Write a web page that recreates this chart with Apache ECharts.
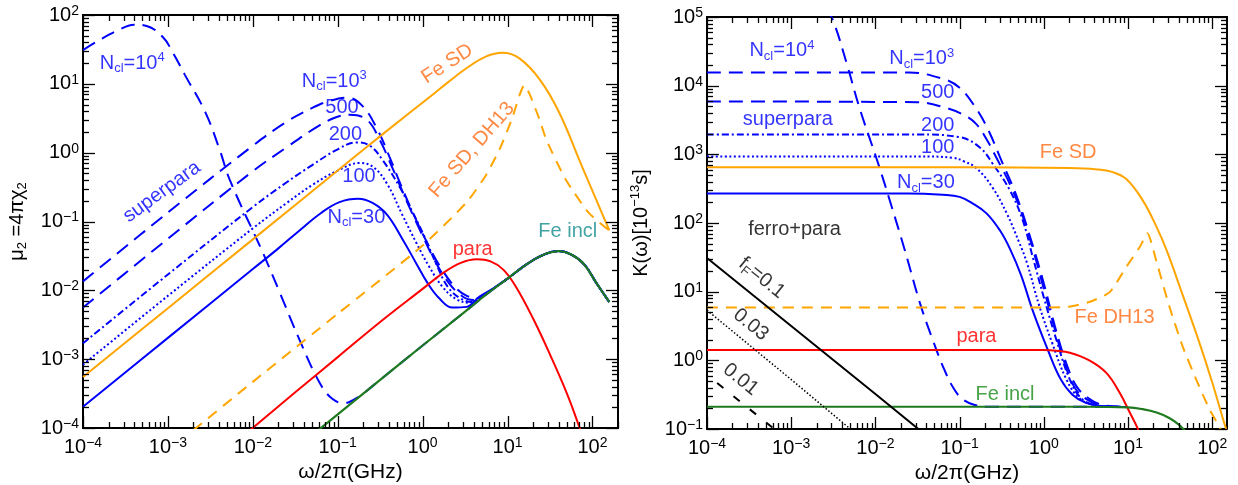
<!DOCTYPE html>
<html>
<head>
<meta charset="utf-8">
<script src="https://cdn.jsdelivr.net/npm/echarts@6/dist/echarts.min.js"></script>
<style>
  html, body { margin: 0; padding: 0; background: #ffffff; }
  #chart { width: 1238px; height: 485px; }
</style>
</head>
<body>
<div id="chart"></div>
<script>
// ---------- Left panel: mu2 = 4*pi*chi2 versus frequency (GHz) ----------
const feInclLeft = [[0.0501,7.94e-5],[0.1,1.58e-4],[0.316,5.01e-4],[1,1.58e-3],[3.16,4.90e-3],[5.62,8.71e-3],[10,1.48e-2],[17.8,2.51e-2],[28.2,3.39e-2],[39.8,3.72e-2],[56.2,3.31e-2],[79.4,2.40e-2],[112,1.26e-2],[158,6.76e-3]];
const paraLeft = [[8.91e-3,8.91e-5],[0.0316,3.31e-4],[0.1,1.07e-3],[0.316,3.47e-3],[1,1.05e-2],[1.78,1.82e-2],[2.82,2.51e-2],[4.37,2.82e-2],[6.31,2.63e-2],[8.91,2.0e-2],[12.6,1.12e-2],[20,3.89e-3],[31.6,1.17e-3],[50.1,3.16e-4],[70.8,1e-4],[89.1,4.47e-5]];
const feSdLeft = [[1e-4,5.50e-4],[1e-3,5.50e-3],[1e-2,5.50e-2],[0.1,0.550],[0.339,1.86],[1.32,7.0],[2.0,10.6],[3.31,17.0],[5.62,25.0],[8.71,28.2],[13.8,23.4],[24.0,11.5],[40.7,3.80],[75.9,0.617],[158,0.0741]];
const feSdDh13Left = [[2.0e-3,9.33e-5],[0.01,4.68e-4],[0.1,4.57e-3],[1,4.47e-2],[3.31,0.191],[5.62,0.479],[8.13,1.15],[11.2,3.02],[15.8,9.55],[18.2,7.08],[24.0,2.95],[28.8,1.51],[49.0,0.398],[91.2,0.132],[158,0.0741]];
const n30Left = [[1e-4,2.04e-4],[1e-3,2.04e-3],[1e-2,2.04e-2],[0.02,4.07e-2],[0.0355,7.41e-2],[0.0631,0.132],[0.105,0.191],[0.174,0.214],[0.257,0.186],[0.380,0.126],[0.575,0.0562],[0.851,0.0240],[1.15,0.0126],[1.58,7.59e-3],[2.24,5.62e-3],[3.31,5.75e-3],[4.68,8.13e-3],[7.08,1.10e-2]];
const n100Left = [[1e-4,8.32e-4],[1e-3,8.32e-3],[1e-2,7.94e-2],[0.0251,0.186],[0.0501,0.339],[0.1,0.550],[0.182,0.708],[0.263,0.617],[0.380,0.355],[0.575,0.126],[0.851,0.0479],[1.20,0.0219],[1.74,0.0110],[2.51,7.41e-3],[3.55,6.61e-3],[5.01,8.13e-3],[7.08,1.10e-2]];
const n200Left = [[1e-4,1.70e-3],[1e-3,1.70e-2],[1e-2,0.162],[0.0251,0.372],[0.0501,0.661],[0.1,1.12],[0.166,1.41],[0.240,1.26],[0.339,0.776],[0.537,0.316],[0.759,0.138],[1.05,0.0603],[1.45,0.0240],[2.0,0.0110],[2.82,7.59e-3],[3.80,6.76e-3],[5.25,8.32e-3],[7.08,1.10e-2]];
const n500Left = [[1e-4,5.62e-3],[1e-3,5.62e-2],[1e-2,0.537],[0.0251,1.20],[0.0501,2.14],[0.0891,3.16],[0.138,3.55],[0.219,3.02],[0.309,1.58],[0.447,0.575],[0.646,0.200],[0.977,0.0661],[1.38,0.0275],[2.0,0.0132],[2.95,8.13e-3],[3.98,7.24e-3],[5.25,8.51e-3],[7.08,1.10e-2]];
const n1000Left = [[1e-4,1.35e-2],[1e-3,0.135],[1e-2,1.26],[0.0251,2.82],[0.0501,4.47],[0.0794,5.62],[0.129,6.31],[0.195,4.79],[0.295,2.14],[0.407,0.871],[0.537,0.372],[0.759,0.138],[1.12,0.0501],[1.58,0.0229],[2.40,0.0112],[3.31,8.32e-3],[4.47,7.76e-3],[5.62,8.91e-3],[7.08,1.10e-2]];
const n10000Left = [[1e-4,30.9],[1.585e-4,43.7],[2.512e-4,58.9],[3.981e-4,72.4],[5.623e-4,69.2],[8.71e-4,47.9],[1.148e-3,28.2],[1.585e-3,13.5],[2.754e-3,3.89],[4.074e-3,1.10],[5.37e-3,0.398],[0.0132,0.0347],[0.0209,9.12e-3],[0.0355,1.91e-3],[0.0617,4.47e-4],[0.0871,2.63e-4],[0.120,2.29e-4],[0.1585,2.63e-4],[0.1995,3.16e-4],[0.316,5.01e-4],[1,1.58e-3]];

// ---------- Right panel: K(omega) in units of 1e-13 s ----------
const feSdRight = [[1e-4,646],[0.1,646],[2.0,631],[4.27,603],[6.61,550],[9.55,437],[14.8,219],[21.9,87.1],[28.8,39.8],[44.7,8.91],[70.8,1.78],[100,0.479],[138,0.126],[158,0.0759]];
const feDh13Right = [[1e-4,5.89],[1,5.89],[2.0,6.03],[3.47,7.08],[6.03,9.77],[9.55,22.9],[13.8,44.7],[17.0,70.8],[21.9,26.9],[30.9,6.17],[44.7,1.58],[64.6,0.525],[93.3,0.191],[123,0.105],[141,0.0708]];
const paraRight = [[1e-4,1.41],[1,1.41],[1.41,1.38],[2.04,1.29],[3.47,1.0],[5.50,0.661],[7.94,0.339],[10.5,0.174],[12.9,0.105],[15.1,0.0631]];
const feInclRight = [[1e-4,0.211],[3.16,0.211],[10,0.207],[14.8,0.195],[21.9,0.174],[30.9,0.145],[39.8,0.117],[47.9,0.0933]];
const n30Right = [[1e-4,269],[0.0251,269],[0.0631,257],[0.1,240],[0.141,195],[0.209,138],[0.302,77.6],[0.398,41.7],[0.537,17.4],[0.741,5.25],[1.12,1.41],[1.58,0.537],[2.19,0.316],[3.16,0.240],[5.01,0.214],[10,0.209]];
const n100Right = [[1e-4,933],[0.0316,933],[0.0832,891],[0.112,794],[0.158,631],[0.245,331],[0.363,138],[0.513,51.3],[0.631,26.3],[0.891,6.03],[1.26,1.78],[1.86,0.525],[2.63,0.282],[3.98,0.224],[6.31,0.211],[10,0.209]];
const n200Right = [[1e-4,1950],[0.0316,1950],[0.1,1780],[0.174,1260],[0.245,741],[0.398,295],[0.562,110],[0.741,31.6],[1,8.32],[1.41,2.0],[2.04,0.525],[2.88,0.269],[4.47,0.219],[7.08,0.211],[10,0.209]];
const n500Right = [[1e-4,5890],[0.0316,5750],[0.0631,4900],[0.110,3800],[0.158,2750],[0.209,1660],[0.282,832],[0.398,363],[0.562,126],[0.759,38.0],[1,11.0],[1.32,3.16],[1.78,0.891],[2.40,0.380],[3.47,0.257],[5.01,0.219],[10,0.209]];
const n1000Right = [[1e-4,15500],[0.0251,15500],[0.0631,12600],[0.1,9330],[0.151,5010],[0.214,2400],[0.316,794],[0.479,240],[0.708,56.2],[1,13.2],[1.41,2.63],[1.86,0.891],[2.45,0.417],[3.47,0.275],[5.01,0.224],[10,0.209]];
const n10000Right = [[2.51e-3,1.32e5],[3.09e-3,93300],[4.57e-3,20900],[6.46e-3,4790],[0.0105,813],[0.0148,214],[0.0224,39.8],[0.0339,6.76],[0.0479,2.0],[0.0661,0.724],[0.0871,0.372],[0.110,0.269],[0.151,0.224],[0.229,0.211],[1,0.211],[10,0.209]];
const ferroPara01 = [[1e-4,30.9],[1e-3,3.16],[1e-2,0.324],[0.0398,0.0813]];
const ferroPara003 = [[1e-4,5.37],[1e-3,0.525],[6.31e-3,0.0794]];
const ferroPara001 = [[1.32e-4,0.468],[1e-3,0.0631]];

// ---------- Axis ranges ----------
const leftX = [1e-4, 200], leftY = [1e-4, 100];
const rightX = [1e-4, 150], rightY = [0.1, 1e5];

// ---------- Styling ----------
const FONT = '"Liberation Sans", Arial, Helvetica, sans-serif';
const BLUE = '#0000ff', ORANGE = '#ffa500', ORANGE_TXT = '#ff6a14', RED = '#ff0000';
const GREEN = '#1e7a1e', TEAL_TXT = '#138c8c', GREEN_TXT = '#1a8c1a', BLACK = '#000000';
const DASH = [14, 8], DASH_DOT = [7, 3, 2, 3], DOT = [2, 2.5];

function richFor(color) {
  return {
    t:   { fontFamily: FONT, fontSize: 20, lineHeight: 24, color },
    sub: { fontFamily: FONT, fontSize: 13, lineHeight: 13, verticalAlign: 'bottom', color },
    sup: { fontFamily: FONT, fontSize: 13, lineHeight: 13, verticalAlign: 'top', color }
  };
}

// Text annotations placed in data coordinates: [text, x, y, rotation, color]
const labelsLeft = [
  ['{t|N}{sub|cl}{t|=10}{sup|4}', 3.80e-4, 19.95, 0, BLUE],
  ['{t|N}{sub|cl}{t|=10}{sup|3}', 0.0912, 10.96, 0, BLUE],
  ['{t|500}', 0.1122, 4.571, 0, BLUE],
  ['{t|200}', 0.1230, 1.820, 0, BLUE],
  ['{t|100}', 0.1778, 0.4571, 0, BLUE],
  ['{t|N}{sub|cl}{t|=30}', 0.1660, 0.1148, 0, BLUE],
  ['{t|superpara}', 8.51e-4, 0.2692, 36, BLUE],
  ['{t|Fe SD}', 1.950, 19.50, 33, ORANGE_TXT],
  ['{t|Fe SD, DH13}', 3.802, 1.096, 49, ORANGE_TXT],
  ['{t|para}', 3.890, 0.0398, 0, RED],
  ['{t|Fe incl}', 51.29, 0.0708, 0, TEAL_TXT]
];
const labelsRight = [
  ['{t|N}{sub|cl}{t|=10}{sup|4}', 7.76e-4, 32360, 0, BLUE],
  ['{t|N}{sub|cl}{t|=10}{sup|3}', 0.03548, 24550, 0, BLUE],
  ['{t|500}', 0.0550, 7943, 0, BLUE],
  ['{t|superpara}', 9.12e-4, 3236, 0, BLUE],
  ['{t|200}', 0.0550, 2630, 0, BLUE],
  ['{t|100}', 0.0550, 1259, 0, BLUE],
  ['{t|N}{sub|cl}{t|=30}', 0.0398, 389, 0, BLUE],
  ['{t|Fe SD}', 1.950, 1072, 0, ORANGE_TXT],
  ['{t|ferro+para}', 1.096e-3, 81.3, 0, BLACK],
  ['{t|f}{sub|F}{t|=0.1}', 4.47e-4, 15.85, -39, BLACK],
  ['{t|0.03}', 3.31e-4, 3.311, -39, BLACK],
  ['{t|0.01}', 2.512e-4, 0.5248, -39, BLACK],
  ['{t|Fe DH13}', 6.918, 4.266, 0, ORANGE_TXT],
  ['{t|para}', 0.1585, 2.188, 0, RED],
  ['{t|Fe incl}', 0.3467, 0.3162, 0, GREEN_TXT]
];

// Blue cluster curves continue along the Fe-inclusion curve once they merge with it.
function withTail(points, tail) {
  const last = points[points.length - 1][0];
  return points.concat(tail.filter(p => p[0] > last * 1.01));
}

function line(data, idx, color, type, width, smooth) {
  return {
    type: 'line', xAxisIndex: idx, yAxisIndex: idx, data,
    showSymbol: false, symbol: 'none', smooth: smooth === undefined ? 0.4 : smooth,
    silent: true, animation: false, clip: true,
    lineStyle: { color, width: width || 2, type: type || 'solid', cap: 'butt' }
  };
}

function annotations(list, idx) {
  return {
    type: 'scatter', xAxisIndex: idx, yAxisIndex: idx, silent: true, animation: false,
    symbolSize: 1, itemStyle: { color: 'rgba(0,0,0,0)' }, z: 10,
    data: list.map(([text, x, y, rot, color]) => ({
      value: [x, y],
      label: { show: true, position: 'inside', formatter: text, rotate: rot, color, rich: richFor(color) }
    }))
  };
}

// Decade (major) and 2..9 (minor) tick positions for a log range.
function logTicks(lo, hi) {
  const out = [];
  for (let k = Math.floor(Math.log10(lo)); k <= Math.ceil(Math.log10(hi)); k++) {
    for (let m = 1; m <= 9; m++) {
      const v = m * Math.pow(10, k);
      if (v < lo * 0.999 || v > hi * 1.001) continue;
      out.push([v, m === 1]);
    }
  }
  return out;
}
function tickData(xr, yr) {
  const d = [];
  logTicks(xr[0], xr[1]).forEach(([v, major]) => d.push([v, yr[0], major ? 0 : 1]));
  logTicks(yr[0], yr[1]).forEach(([v, major]) => d.push([xr[0], v, major ? 2 : 3]));
  return d;
}
function renderTicks(params, api) {
  const cs = params.coordSys;
  const kind = api.value(2);
  const p = api.coord([api.value(0), api.value(1)]);
  const len = (kind === 0 || kind === 2) ? 12 : 6;
  const st = { stroke: '#000', lineWidth: 1.3 };
  if (kind < 2) {
    const x = Math.round(p[0]) + 0.5;
    const b = cs.y + cs.height, t = cs.y;
    return { type: 'group', children: [
      { type: 'line', shape: { x1: x, y1: b, x2: x, y2: b - len }, style: st },
      { type: 'line', shape: { x1: x, y1: t, x2: x, y2: t + len }, style: st }
    ] };
  }
  const y = Math.round(p[1]) + 0.5;
  const l = cs.x, r = cs.x + cs.width;
  return { type: 'group', children: [
    { type: 'line', shape: { x1: l, y1: y, x2: l + len, y2: y }, style: st },
    { type: 'line', shape: { x1: r, y1: y, x2: r - len, y2: y }, style: st }
  ] };
}
function ticks(idx, xr, yr) {
  return { type: 'custom', xAxisIndex: idx, yAxisIndex: idx, silent: true, animation: false,
    z: 20, renderItem: renderTicks, data: tickData(xr, yr) };
}

function powLabel(v) {
  const lg = Math.log10(v), e = Math.round(lg);
  if (Math.abs(lg - e) > 1e-6) return '';
  return '{b|10}{s|' + (e < 0 ? '\u2212' + (-e) : String(e)) + '}';
}
const tickRich = {
  b: { fontFamily: FONT, fontSize: 20, lineHeight: 22, color: '#000' },
  s: { fontFamily: FONT, fontSize: 14, lineHeight: 14, verticalAlign: 'top', color: '#000' }
};
const nameRich = {
  t:   { fontFamily: FONT, fontSize: 20, lineHeight: 24, color: '#000' },
  x:   { fontFamily: FONT, fontSize: 21, lineHeight: 24, color: '#000' },
  sub: { fontFamily: FONT, fontSize: 13, lineHeight: 13, verticalAlign: 'bottom', color: '#000' },
  sup: { fontFamily: FONT, fontSize: 13, lineHeight: 13, verticalAlign: 'top', color: '#000' }
};

function xAxis(idx, range) {
  return {
    gridIndex: idx, type: 'log', logBase: 10, min: range[0], max: range[1],
    name: '{x|\u03c9/2\u03c0(GHz)}', nameLocation: 'middle', nameGap: 31,
    nameTextStyle: { rich: nameRich },
    axisLine: { show: false }, axisTick: { show: false }, splitLine: { show: false },
    axisLabel: { formatter: powLabel, margin: 8, rich: tickRich, showMaxLabel: true, showMinLabel: true, hideOverlap: false }
  };
}
function yAxis(idx, range, name, gap) {
  return {
    gridIndex: idx, type: 'log', logBase: 10, min: range[0], max: range[1],
    name, nameLocation: 'middle', nameRotate: 90, nameGap: gap,
    nameTextStyle: { rich: nameRich },
    axisLine: { show: false }, axisTick: { show: false }, splitLine: { show: false },
    axisLabel: { formatter: powLabel, margin: 4, rich: tickRich, showMaxLabel: true, showMinLabel: true, hideOverlap: false }
  };
}

const chart = echarts.init(document.getElementById('chart'), null, { renderer: 'canvas' });
chart.setOption({
  backgroundColor: '#ffffff',
  animation: false,
  textStyle: { fontFamily: FONT },
  grid: [
    { left: 83, top: 15, width: 535, height: 413, show: true, borderColor: '#000', borderWidth: 2,
      backgroundColor: 'transparent', containLabel: false, outerBoundsMode: 'none' },
    { left: 707, top: 17, width: 520, height: 412, show: true, borderColor: '#000', borderWidth: 2,
      backgroundColor: 'transparent', containLabel: false, outerBoundsMode: 'none' }
  ],
  xAxis: [xAxis(0, leftX), xAxis(1, rightX)],
  yAxis: [
    yAxis(0, leftY, '{t|\u03bc}{sub|2}{t| =4\u03c0\u03c7}{sub|2}', 54),
    yAxis(1, rightY, '{t|K(\u03c9)[10}{sup|\u221213}{t|s]}', 54)
  ],
  series: [
    // left panel
    line(withTail(n10000Left, feInclLeft), 0, BLUE, DASH),
    line(withTail(n1000Left, feInclLeft), 0, BLUE, DASH),
    line(withTail(n500Left, feInclLeft), 0, BLUE, DASH),
    line(withTail(n200Left, feInclLeft), 0, BLUE, DASH_DOT),
    line(withTail(n100Left, feInclLeft), 0, BLUE, DOT),
    line(withTail(n30Left, feInclLeft), 0, BLUE, 'solid'),
    line(feSdLeft, 0, ORANGE, 'solid'),
    line(feSdDh13Left, 0, ORANGE, [11, 8], 2, 0.2),
    line(paraLeft, 0, RED, 'solid'),
    line(feInclLeft, 0, GREEN, 'solid', 2.2),
    ticks(0, leftX, leftY),
    annotations(labelsLeft, 0),
    // right panel
    line(n10000Right, 1, BLUE, DASH),
    line(n1000Right, 1, BLUE, DASH),
    line(n500Right, 1, BLUE, DASH),
    line(n200Right, 1, BLUE, DASH_DOT),
    line(n100Right, 1, BLUE, DOT),
    line(n30Right, 1, BLUE, 'solid'),
    line(feSdRight, 1, ORANGE, 'solid'),
    line(feDh13Right, 1, ORANGE, [11, 8], 2, 0.2),
    line(paraRight, 1, RED, 'solid'),
    line(feInclRight, 1, GREEN, 'solid', 2.2),
    line(ferroPara01, 1, BLACK, 'solid', 2, false),
    line(ferroPara003, 1, BLACK, [1.5, 2], 1.5, false),
    line(ferroPara001, 1, BLACK, [8, 13], 2, false),
    ticks(1, rightX, rightY),
    annotations(labelsRight, 1)
  ]
});
</script>
</body>
</html>
